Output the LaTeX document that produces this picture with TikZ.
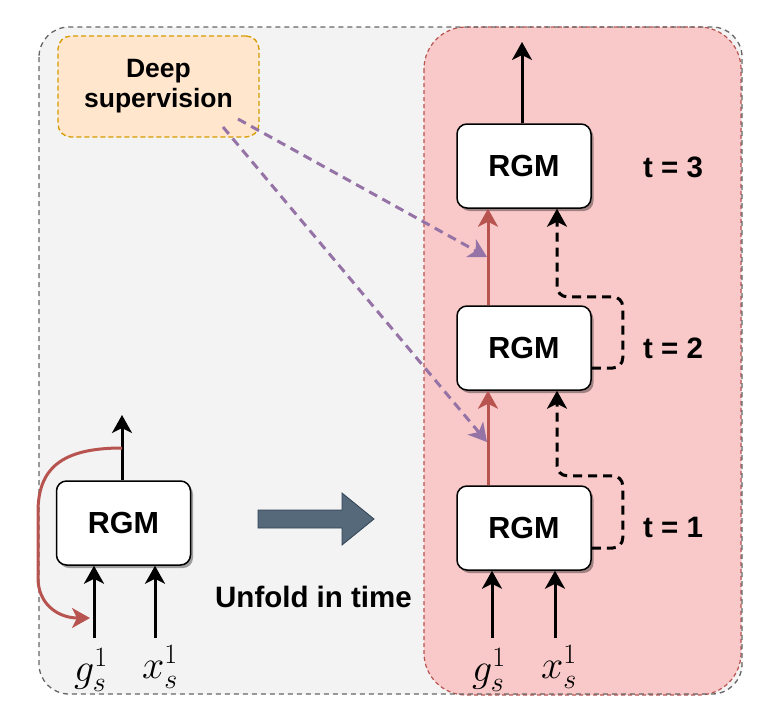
\documentclass[tikz,border=0pt]{standalone}
\usepackage{fix-cm}
\usepackage{fontspec}
\setmainfont{Liberation Sans}
\usetikzlibrary{arrows.meta,shadows}
\definecolor{outerfill}{HTML}{F3F3F3}
\definecolor{outerline}{HTML}{666666}
\definecolor{pinkfill}{HTML}{F8C9C8}
\definecolor{pinkline}{HTML}{B85450}
\definecolor{dsfill}{HTML}{FFE6CC}
\definecolor{dsline}{HTML}{D79B00}
\definecolor{purp}{HTML}{9673A6}
\definecolor{redl}{HTML}{B85450}
\definecolor{slate}{HTML}{56697A}
\definecolor{slatedark}{HTML}{314354}
\begin{document}
\begin{tikzpicture}[x=1pt,y=-1pt,
  tip/.style={-{Stealth[length=18pt,width=20pt,inset=5pt]}},
  rgm/.style={draw=black, line width=1.5pt, fill=white, rounded corners=10pt,
    minimum width=134pt, minimum height=84pt, inner sep=0pt,
    font=\fontsize{30.5}{35}\selectfont\bfseries,
    drop shadow={shadow xshift=2.5pt,shadow yshift=-3pt,opacity=0.35,fill=black}},
  dsbox/.style={draw=dsline, fill=dsfill, line width=1.3pt, dash pattern=on 5pt off 3pt,
    rounded corners=13pt, minimum width=201pt, minimum height=101pt, inner sep=0pt,
    align=center, font=\fontsize{26.5}{30}\selectfont\bfseries},
  tlabel/.style={font=\fontsize{29.5}{34}\selectfont\bfseries, inner sep=0pt},
  mathlab/.style={font=\fontsize{40}{46}\selectfont, inner sep=0pt},
  blk/.style={tip, draw=black, line width=3pt},
  redarr/.style={tip, draw=redl, line width=3pt},
  fb/.style={tip, draw=black, line width=3pt, dash pattern=on 9pt off 6pt, rounded corners=10pt},
  purpl/.style={tip, draw=purp, line width=3pt, dash pattern=on 9pt off 6pt},
]
\path[use as bounding box] (0,0) rectangle (774,720);

% containers
\fill[outerfill, rounded corners=30pt] (39,27) rectangle (742,694);
\draw[pinkline, fill=pinkfill, line width=1.2pt, dash pattern=on 4pt off 3pt, rounded corners=42pt] (424,27) rectangle (741,695);
\draw[outerline, line width=1.3pt, dash pattern=on 5pt off 4pt, rounded corners=30pt] (39,27) rectangle (742,694);

% nodes
\node[dsbox] (DS) at (158.5,86.5) {Deep\\supervision};
\node[rgm] (B3) at (524,166) {RGM};
\node[rgm] (B2) at (524,348) {RGM};
\node[rgm] (B1) at (524,528) {RGM};
\node[rgm] (L) at (123.5,523) {RGM};
\node[tlabel] (t3) at (673,167) {t = 3};
\node[tlabel] (t2) at (673,348) {t = 2};
\node[tlabel] (t1) at (673,527) {t = 1};
\node[tlabel] (unf) at (313.5,597) {Unfold in time};
\node[mathlab] (gR) at (489,670) {$g_s^1$};
\node[mathlab] (xR) at (559,667) {$x_s^1$};
\node[mathlab] (gL) at (91,670) {$g_s^1$};
\node[mathlab] (xL) at (160,667) {$x_s^1$};

% big arrow
\draw[fill=slate, draw=slatedark, line width=0.8pt]
  (258,510) -- (342,510) -- (342,493) -- (374,519) -- (342,545) -- (342,528) -- (258,528) -- cycle;

% outputs
\coordinate (o3) at (522,42);
\draw[blk] (B3.north -| o3) -- (o3);
\coordinate (oL) at (122,415);
\draw[blk] (L.north -| oL) -- (oL);

% inputs right
\coordinate (gRs) at (492,638);
\coordinate (xRs) at (555,638);
\draw[blk] (gRs) -- (gRs |- B1.south);
\draw[blk] (xRs) -- (xRs |- B1.south);
% inputs left
\coordinate (gLs) at (94,638);
\coordinate (xLs) at (155,638);
\draw[blk] (gLs) -- (gLs |- L.south);
\draw[blk] (xLs) -- (xLs |- L.south);

% red recurrent
\draw[redarr] ([xshift=-36pt]B1.north) -- ([xshift=-36pt]B2.south);
\draw[redarr] ([xshift=-36pt]B2.north) -- ([xshift=-36pt]B3.south);
\coordinate (rs) at (122,448);
\coordinate (re) at (90,618);
\draw[redarr] (rs) .. controls (62,448) and (38,468) .. (38,512) -- (38,578)
  .. controls (38,604) and (58,618) .. (re);

% dashed feedback
\draw[fb] ([yshift=-20pt]B1.east) -- ++(31,0) |- ([xshift=33pt,yshift=-85pt]B2.south) -- ([xshift=33pt]B2.south);
\draw[fb] ([yshift=-20pt]B2.east) -- ++(31,0) |- ([xshift=33pt,yshift=-88pt]B3.south) -- ([xshift=33pt]B3.south);

% deep supervision
\coordinate (p1s) at (238,119);
\coordinate (p1e) at (487,257);
\coordinate (p2s) at (223,127);
\coordinate (p2e) at (487,442);
\draw[purpl] (p1s) -- (p1e);
\draw[purpl] (p2s) -- (p2e);
\end{tikzpicture}
\end{document}
